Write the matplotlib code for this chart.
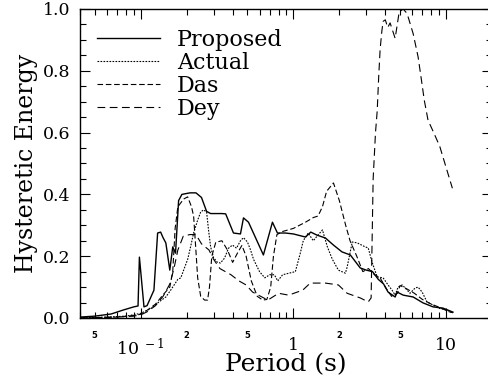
import matplotlib
matplotlib.use("Agg")
import matplotlib.pyplot as plt
from matplotlib.ticker import FixedLocator, FixedFormatter, LogLocator, FuncFormatter

plt.rcParams["font.family"] = "DejaVu Serif"
plt.rcParams["mathtext.fontset"] = "dejavuserif"

# Proposed (solid)
t_prop = [0.040, 0.050, 0.064, 0.077, 0.090, 0.096, 0.098, 0.105, 0.110, 0.122, 0.129,
          0.135, 0.140, 0.146, 0.155, 0.162, 0.169, 0.177, 0.186, 0.210, 0.230, 0.250,
          0.270, 0.287, 0.340, 0.360, 0.405, 0.450, 0.471, 0.508, 0.636, 0.729, 0.786,
          0.887, 1.00, 1.20, 1.30, 1.43, 1.62, 1.83, 2.08, 2.36, 2.74, 3.00, 3.30,
          3.60, 3.90, 4.17, 4.64, 4.78, 5.24, 6.09, 7.06, 8.22, 9.55, 11.1]
e_prop = [0.003, 0.006, 0.013, 0.026, 0.036, 0.039, 0.197, 0.036, 0.040, 0.090, 0.275,
          0.278, 0.260, 0.243, 0.155, 0.230, 0.210, 0.380, 0.400, 0.405, 0.405, 0.390,
          0.345, 0.338, 0.338, 0.337, 0.275, 0.272, 0.324, 0.310, 0.204, 0.310, 0.275,
          0.275, 0.272, 0.262, 0.278, 0.268, 0.259, 0.236, 0.214, 0.204, 0.162, 0.155,
          0.150, 0.125, 0.110, 0.084, 0.068, 0.084, 0.074, 0.068, 0.049, 0.036, 0.032, 0.019]

# Actual (fine dots)
t_act = [0.040, 0.060, 0.080, 0.100, 0.116, 0.130, 0.146, 0.157, 0.167, 0.175, 0.183,
         0.191, 0.203, 0.212, 0.222, 0.236, 0.247, 0.258, 0.270, 0.278, 0.287, 0.300,
         0.318, 0.333, 0.354, 0.376, 0.399, 0.424, 0.450, 0.471, 0.500, 0.524, 0.548,
         0.600, 0.650, 0.700, 0.750, 0.790, 0.850, 1.03, 1.11, 1.16, 1.25, 1.35, 1.43,
         1.55, 1.67, 1.80, 1.97, 2.19, 2.25, 2.43, 2.62, 2.96, 3.09, 3.28, 3.54, 3.87,
         4.17, 4.43, 4.64, 4.85, 5.16, 5.40, 5.81, 6.27, 6.56, 6.97, 7.50, 8.22, 8.88,
         10.1, 11.1]
e_act = [0.000, 0.003, 0.006, 0.015, 0.030, 0.050, 0.068, 0.090, 0.110, 0.125, 0.130,
         0.155, 0.190, 0.230, 0.275, 0.317, 0.343, 0.350, 0.343, 0.285, 0.230, 0.195,
         0.180, 0.178, 0.194, 0.226, 0.236, 0.226, 0.250, 0.260, 0.246, 0.220, 0.190,
         0.150, 0.130, 0.140, 0.140, 0.120, 0.140, 0.150, 0.210, 0.250, 0.275, 0.250, 0.265,
         0.285, 0.230, 0.190, 0.155, 0.145, 0.165, 0.246, 0.243, 0.230, 0.227, 0.180,
         0.133, 0.130, 0.107, 0.090, 0.074, 0.100, 0.107, 0.097, 0.080, 0.097, 0.100,
         0.084, 0.052, 0.042, 0.032, 0.026, 0.016]

# Das (medium dashes)
t_das = [0.040, 0.070, 0.090, 0.100, 0.110, 0.125, 0.140, 0.155, 0.162, 0.168, 0.175,
         0.191, 0.203, 0.215, 0.222, 0.229, 0.236, 0.247, 0.262, 0.274, 0.282, 0.292,
         0.310, 0.340, 0.370, 0.400, 0.430, 0.460, 0.490, 0.530, 0.580, 0.630, 0.670,
         0.710, 0.740, 0.780, 0.850, 1.00, 1.20, 1.35, 1.45, 1.55, 1.65, 1.83, 2.00,
         2.20, 2.35, 2.60, 2.85, 3.10, 3.40, 3.70, 4.00, 4.40, 4.80, 5.00, 5.50, 6.20,
         7.00, 8.00, 9.00, 10.5, 11.1]
e_das = [0.000, 0.003, 0.008, 0.012, 0.025, 0.045, 0.075, 0.100, 0.150, 0.290, 0.360,
         0.385, 0.392, 0.360, 0.330, 0.230, 0.130, 0.070, 0.058, 0.058, 0.100, 0.200,
         0.245, 0.250, 0.220, 0.180, 0.210, 0.235, 0.200, 0.120, 0.070, 0.058, 0.060,
         0.100, 0.200, 0.270, 0.280, 0.290, 0.310, 0.325, 0.330, 0.360, 0.410, 0.437, 0.380,
         0.300, 0.250, 0.200, 0.150, 0.160, 0.140, 0.130, 0.100, 0.070, 0.080, 0.105,
         0.095, 0.080, 0.060, 0.045, 0.035, 0.020, 0.017]

# Dey (long dashes)
t_dey = [0.040, 0.070, 0.090, 0.100, 0.110, 0.125, 0.140, 0.155, 0.165, 0.175, 0.190,
         0.210, 0.230, 0.250, 0.280, 0.300, 0.330, 0.390, 0.440, 0.490, 0.540, 0.590,
         0.680, 0.800, 0.930, 1.15, 1.29, 1.62, 1.97, 2.25, 2.74, 3.09, 3.23, 3.33,
         3.45, 3.54, 3.62, 3.70, 3.80, 3.87, 4.00, 4.15, 4.30, 4.64, 4.93, 5.24, 5.56,
         6.09, 6.56, 6.90, 7.20, 7.62, 8.30, 9.10, 11.0]
e_dey = [0.000, 0.003, 0.006, 0.010, 0.020, 0.040, 0.070, 0.110, 0.160, 0.220, 0.265,
         0.270, 0.270, 0.240, 0.220, 0.190, 0.160, 0.140, 0.120, 0.107, 0.084, 0.074,
         0.058, 0.080, 0.074, 0.090, 0.113, 0.113, 0.107, 0.080, 0.065, 0.052, 0.065, 0.450,
         0.600, 0.670, 0.780, 0.870, 0.930, 0.960, 0.965, 0.940, 0.955, 0.905, 0.990, 1.000, 0.985,
         0.920, 0.845, 0.770, 0.705, 0.640, 0.600, 0.555, 0.420]

fig = plt.figure(figsize=(4.88, 3.85), dpi=100)
ax = fig.add_axes([80 / 488, 67 / 385, 412 / 488, 309 / 385])

ax.plot(t_prop, e_prop, color="black", lw=1.0, label="Proposed")
ax.plot(t_act, e_act, color="black", lw=0.8, linestyle=(0, (1.5, 1.2)), label="Actual")
ax.plot(t_das, e_das, color="black", lw=0.8, linestyle=(0, (5, 2.5)), label="Das")
ax.plot(t_dey, e_dey, color="black", lw=0.8, linestyle=(0, (7, 4)), label="Dey")

ax.set_xscale("log")
ax.set_xlim(0.04, 20)
ax.set_ylim(0, 1.0)

# x ticks: majors at decades, minor labels only at 2 and 5
ax.xaxis.set_major_locator(FixedLocator([0.1, 1, 10]))
ax.xaxis.set_major_formatter(FixedFormatter([r"$10^{\ -1}$", "1", "10"]))
ax.xaxis.set_minor_locator(LogLocator(base=10, subs=range(2, 10)))


def minor_fmt(v, pos):
    if v > 15:
        return ""
    m = round(v / 10 ** int(f"{v:e}".split("e")[1]))
    return str(m) if m in (2, 5) else ""


ax.xaxis.set_minor_formatter(FuncFormatter(minor_fmt))

ax.set_yticks([0.0, 0.2, 0.4, 0.6, 0.8, 1.0])
ax.set_yticklabels(["0.0", "0.2", "0.4", "0.6", "0.8", "1.0"])
ax.set_yticks([i * 0.05 for i in range(21)], minor=True)

ax.tick_params(which="both", direction="in", top=True, right=True, width=0.8)
ax.tick_params(which="major", length=7)
ax.tick_params(which="minor", length=4.5)
ax.tick_params(axis="y", which="major", labelsize=12.5, pad=7)
ax.tick_params(axis="x", which="major", labelsize=12.5, pad=14)
ax.tick_params(axis="x", which="minor", labelsize=6, pad=9)
for lab in ax.xaxis.get_minorticklabels():
    lab.set_fontweight("bold")
    lab.set_family("DejaVu Sans")

for s in ax.spines.values():
    s.set_linewidth(1.0)

ax.set_xlabel("Period (s)", fontsize=18, labelpad=-4)
ax.set_ylabel("Hysteretic Energy", fontsize=17, labelpad=3)

ax.legend(loc="upper left", bbox_to_anchor=(17 / 412, 1 - 20 / 309), frameon=False,
          fontsize=16, handlelength=2.85, handletextpad=0.75, labelspacing=0.04,
          borderpad=0, borderaxespad=0)

plt.savefig("out.png", dpi=100)
